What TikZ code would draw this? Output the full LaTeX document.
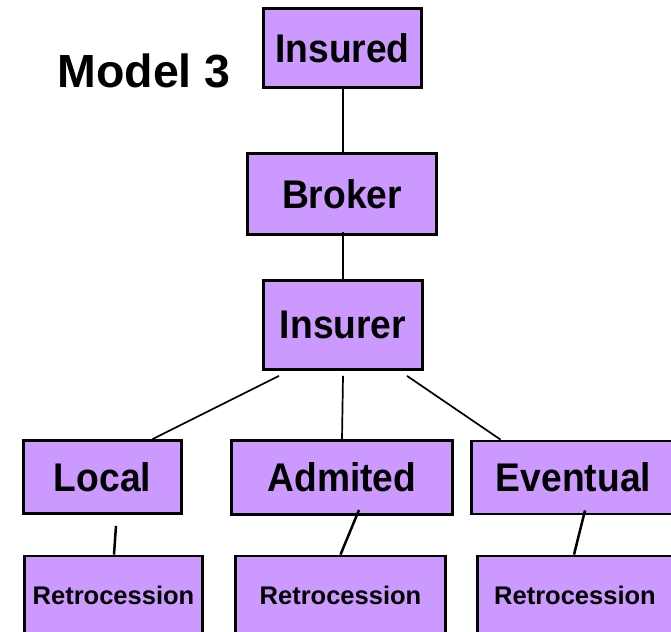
\documentclass[tikz,border=0pt]{standalone}
\usepackage{fontspec}
\setmainfont{Liberation Sans}
\newfontfamily\condfont[FakeStretch=0.93]{Liberation Sans}
\usetikzlibrary{calc}
\definecolor{boxfill}{HTML}{CC99FF}
\tikzset{
  box/.style={draw=black, fill=boxfill, line width=2.8pt, rectangle, inner sep=0pt,
    font=\condfont\bfseries\fontsize{40}{40}\selectfont},
  retrobox/.style={box, font=\bfseries\fontsize{25.5}{25.5}\selectfont},
  conn/.style={draw=black, line width=2pt},
  thinconn/.style={draw=black, line width=1.7pt},
  thickconn/.style={draw=black, line width=2.5pt},
}
\begin{document}
\begin{tikzpicture}[x=1pt,y=-1pt]
\useasboundingbox (0,0) rectangle (671,631);
\clip (0,0) rectangle (671,631);
\node[font=\bfseries\fontsize{46.5}{46.5}\selectfont] (title) at (144,71) {Model 3};
\node[box, minimum width=158pt, minimum height=79pt] (insured) at (342.5,48) {Insured};
\node[box, minimum width=189pt, minimum height=81pt] (broker) at (342,194) {Broker};
\node[box, minimum width=159pt, minimum height=89pt] (insurer) at (343,325) {Insurer};
\node[box, minimum width=158pt, minimum height=73pt] (local) at (102.5,477) {Local};
\node[box, minimum width=221pt, minimum height=74pt] (admited) at (342,477.5) {Admited};
\node[box, minimum width=204pt, minimum height=73pt] (eventual) at (573.5,477.5) {Eventual};
\node[retrobox, minimum width=178pt, minimum height=78pt] (retroA) at (113.5,595) {Retrocession};
\node[retrobox, minimum width=210pt, minimum height=78pt] (retroB) at (340.5,595) {Retrocession};
\node[retrobox, minimum width=195pt, minimum height=78pt] (retroC) at (575,595) {Retrocession};
% connectors
\draw[conn] (insured.south) -- (insured.south |- broker.north);
\draw[conn] ($(insurer.north |- broker.south)+(0,-4)$) -- (insurer.north);
\draw[thinconn] ($(insurer.south)+(-64,5)$) -- ($(local.north)+(50,0)$);
\draw[thinconn] ($(insurer.south)+(0,5)$) -- (admited.north);
\draw[thinconn] ($(insurer.south)+(64,5)$) -- ($(eventual.north)+(-73,0)$);
\draw[thickconn] ($(local.south)+(13.5,11)$) -- ($(retroA.north)+(0.5,0)$);
\draw[thickconn] ($(admited.south)+(17,-6)$) -- (retroB.north);
\draw[thickconn] ($(eventual.south)+(11.5,-5)$) -- ($(retroC.north)+(-1,0)$);
\end{tikzpicture}
\end{document}
